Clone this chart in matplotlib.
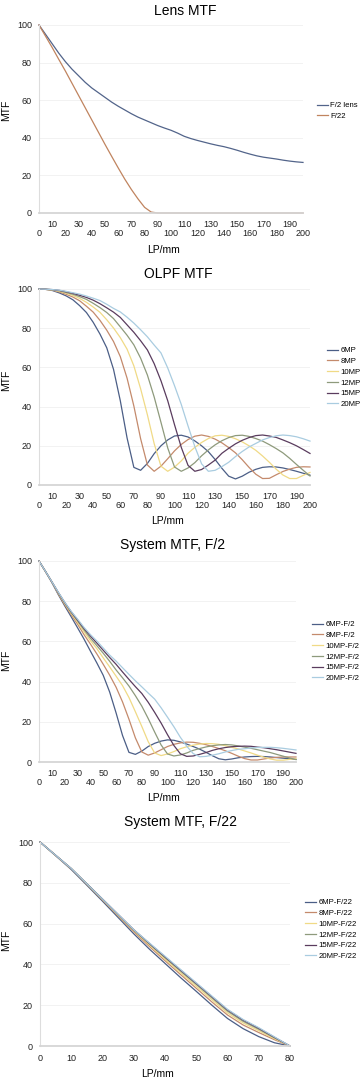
import matplotlib
matplotlib.use('Agg')
import matplotlib.pyplot as plt

plt.rcParams['font.family'] = ['Liberation Sans', 'DejaVu Sans']

# spatial frequency (LP/mm)
lp = list(range(0, 205, 5))
lp80 = list(range(0, 85, 5))

# Lens MTF
lens_f2 = [100, 95, 90, 85, 80.5, 76.5, 73, 69.5, 66.5, 64, 61.5, 59, 56.8, 54.8, 52.8, 51, 49.5, 48,
           46.5, 45.2, 44, 42.5, 40.8, 39.6, 38.6, 37.7, 36.8, 36, 35.3, 34.4, 33.4, 32.3, 31.3, 30.4,
           29.7, 29.2, 28.7, 28.1, 27.6, 27.2, 26.9]
lens_f22 = [100, 94, 88, 81.7, 75.5, 69, 62.5, 56, 49.5, 43, 36.5, 30.2, 24, 18, 12.5, 7.5, 3, 0.5,
            0, 0, 0, 0, 0, 0, 0, 0, 0, 0, 0, 0, 0, 0, 0, 0, 0, 0, 0, 0, 0, 0, 0]

# OLPF MTF
olpf_6 = [100, 99.8, 99.2, 98, 96.5, 94.5, 91.5, 88, 83, 77, 70, 59, 43, 24, 9, 7.5, 11, 16, 20, 23,
          25, 25.4, 24.5, 22.5, 20, 17, 13, 8.5, 4.5, 3.1, 4.5, 6.5, 8, 9, 9.3, 9.2, 8.7, 7.9, 7, 6, 5]
olpf_8 = [100, 99.8, 99.4, 98.5, 97.3, 95.9, 94, 91.2, 88.2, 84, 79, 73.2, 65.5, 54.5, 40.3, 23.6,
          10.2, 7, 9.6, 13.4, 17.4, 20.7, 23.2, 24.9, 25.5, 24.8, 23.4, 21.5, 19.1, 16.4, 12.9, 9,
          5.5, 3.3, 3.4, 5.2, 6.9, 8.1, 9, 9.3, 9.2]
olpf_10 = [100, 99.8, 99.5, 98.8, 97.9, 96.7, 95.2, 93.2, 90.8, 88.1, 84.3, 80.1, 75.2, 69.3, 60.8,
           49.1, 35.8, 21.1, 9.6, 7, 9.1, 12.3, 16.2, 19.2, 21.7, 23.7, 25.1, 25.4, 24.8, 23.6, 22,
           20, 17.7, 14.8, 11.6, 8.1, 5.1, 3.3, 3.3, 4.9, 6.4]
olpf_12 = [100, 99.9, 99.6, 99.1, 98.2, 97.3, 96.1, 94.7, 92.7, 90.5, 88, 84.9, 80.7, 76.4, 71.5,
           64.7, 56.1, 44.9, 32, 18.9, 9.2, 7, 8.7, 11.4, 14.9, 17.9, 20.5, 22.6, 24.2, 25.2, 25.4,
           24.8, 23.7, 22.4, 20.6, 18.6, 16.4, 13.6, 10.5, 7.5, 4.6]
olpf_15 = [100, 99.9, 99.7, 99.3, 98.6, 97.8, 96.8, 95.7, 94.3, 92.5, 90.4, 88.2, 85.5, 81.7, 77.9,
           73.6, 68.9, 61.9, 53.2, 43, 30.8, 19.2, 10, 7, 7.9, 10.2, 12.7, 16.2, 18.7, 21, 22.8,
           24.2, 25.2, 25.5, 25, 24.3, 23, 21.6, 20, 18.1, 16.1]
olpf_20 = [100, 99.9, 99.7, 99.4, 98.8, 98.1, 97.4, 96.4, 95.3, 94.1, 92.2, 90.1, 88.3, 85.6, 82.6,
           79.2, 75.6, 71.4, 67.4, 59.7, 50.7, 41.1, 30.1, 19.6, 10.8, 7, 7.5, 9.4, 11.6, 14.5,
           17.1, 19.4, 21.2, 23, 24.2, 25.1, 25.5, 25.2, 24.6, 23.6, 22.4]

# System MTF, F/2
sys2_6 = [100, 94.8, 89.3, 83.3, 77.7, 72.3, 66.8, 61.2, 55.2, 49.3, 43.1, 34.8, 24.4, 13.2, 4.8,
          3.8, 5.4, 7.7, 9.3, 10.4, 11, 10.8, 10, 8.9, 7.7, 6.4, 4.8, 3.1, 1.6, 1.1, 1.5, 2.1, 2.5,
          2.7, 2.8, 2.7, 2.5, 2.2, 1.9, 1.6, 1.3]
sys2_8 = [100, 94.8, 89.5, 83.7, 78.3, 73.4, 68.6, 63.4, 58.7, 53.8, 48.6, 43.2, 37.2, 29.9, 21.3,
          12, 5, 3.4, 4.5, 6.1, 7.7, 8.8, 9.5, 9.9, 9.8, 9.3, 8.6, 7.7, 6.7, 5.6, 4.3, 2.9, 1.7, 1,
          1, 1.5, 2, 2.3, 2.5, 2.5, 2.5]
sys2_10 = [100, 94.8, 89.6, 84, 78.8, 74, 69.5, 64.8, 60.4, 56.4, 51.8, 47.3, 42.7, 38, 32.1, 25,
           17.7, 10.1, 4.5, 3.2, 4, 5.2, 6.6, 7.6, 8.4, 8.9, 9.2, 9.1, 8.8, 8.1, 7.3, 6.5, 5.5, 4.5,
           3.4, 2.4, 1.5, 0.9, 0.9, 1.3, 1.7]
sys2_12 = [100, 94.9, 89.6, 84.2, 79.1, 74.4, 70.2, 65.8, 61.6, 57.9, 54.1, 50.1, 45.8, 41.9, 37.8,
           33, 27.8, 21.6, 14.9, 8.5, 4, 3, 3.5, 4.5, 5.8, 6.7, 7.5, 8.1, 8.5, 8.7, 8.5, 8, 7.4,
           6.8, 6.1, 5.4, 4.7, 3.8, 2.9, 2, 1.2]
sys2_15 = [100, 94.9, 89.7, 84.4, 79.4, 74.8, 70.7, 66.5, 62.7, 59.2, 55.6, 52, 48.6, 44.8, 41.1,
           37.5, 34.1, 29.7, 24.7, 19.4, 13.6, 8.2, 4.1, 2.8, 3, 3.8, 4.7, 5.8, 6.6, 7.2, 7.6, 7.8,
           7.9, 7.8, 7.4, 7.1, 6.6, 6.1, 5.5, 4.9, 4.3]
sys2_20 = [100, 94.9, 89.7, 84.5, 79.5, 75, 71.1, 67, 63.4, 60.2, 56.7, 53.2, 50.2, 46.9, 43.6,
           40.4, 37.4, 34.3, 31.3, 27, 22.3, 17.5, 12.3, 7.8, 4.2, 2.6, 2.8, 3.4, 4.1, 5, 5.7, 6.3,
           6.6, 7, 7.2, 7.3, 7.3, 7.1, 6.8, 6.4, 6]

# System MTF, F/22
sys22_6 = [100, 93.3, 86.5, 78.8, 71, 63, 55, 47.5, 40.5, 33.5, 26.8, 20, 13.5, 8.5, 4.6, 1.6, 0]
sys22_8 = [100, 93.4, 86.8, 79.2, 71.6, 63.8, 56, 48.8, 41.8, 35, 28.3, 21.6, 15.2, 10.3, 6.6, 3.1, 0]
sys22_10 = [100, 93.4, 86.9, 79.3, 71.8, 64.1, 56.5, 49.5, 42.6, 35.9, 29.3, 22.7, 16.2, 11.3, 7.5, 3.6, 0]
sys22_12 = [100, 93.5, 87, 79.5, 72, 64.4, 56.8, 50, 43.3, 36.7, 30.2, 23.6, 17.1, 12.1, 8.2, 4, 0]
sys22_15 = [100, 93.5, 87, 79.5, 72, 64.5, 57, 50.3, 43.7, 37.2, 30.7, 24.2, 17.7, 12.7, 8.7, 4.3, 0]
sys22_20 = [100, 93.5, 87, 79.5, 72, 64.5, 57, 50.5, 44, 37.5, 31, 24.5, 18, 13, 9, 4.5, 0]

mp_names = ['6MP', '8MP', '10MP', '12MP', '15MP', '20MP']
colors = ['#4b5e86', '#c48a6c', '#f0da86', '#8e9a7c', '#5a3c5e', '#a9cce0']

W, H = 361, 1080
fig = plt.figure(figsize=(W / 100, H / 100), dpi=100)


def make_axes(x0, x1, y100, y0):
    return fig.add_axes([x0 / W, 1 - y0 / H, (x1 - x0) / W, (y0 - y100) / H])


def style(ax, xmax, stagger):
    ax.set_xlim(0, xmax)
    ax.set_ylim(0, 100)
    ax.set_yticks(range(0, 101, 20))
    ax.set_xticks(range(0, xmax + 1, 10))
    ax.tick_params(length=0, labelsize=6.5, colors='#222222')
    ax.tick_params(axis='y', pad=5)
    ax.yaxis.grid(True, color='#f0f0f0', lw=0.6)
    ax.set_axisbelow(True)
    for s in ['top', 'right']:
        ax.spines[s].set_visible(False)
    ax.spines['left'].set_color('#dddddd')
    ax.spines['bottom'].set_color('#d5d5d5')
    ax.spines['bottom'].set_linewidth(1.3)
    for i, t in enumerate(ax.xaxis.get_major_ticks()):
        if stagger:
            t.set_pad(11.5 if i % 2 == 0 else 5)
        else:
            t.set_pad(5.5)


def legend(ax, x, y):
    ax.legend(loc='upper left', bbox_to_anchor=(x / W, 1 - y / H), bbox_transform=fig.transFigure,
              frameon=False, fontsize=5.6, handlelength=1.4, handletextpad=0.3,
              labelspacing=0.42, borderpad=0, borderaxespad=0)


def labels(title, tx, ty, ly, lx, my):
    fig.text(tx / W, 1 - ty / H, title, ha='center', va='center', fontsize=10)
    fig.text(lx / W, 1 - ly / H, 'LP/mm', ha='center', va='center', fontsize=7.5)
    fig.text(6 / W, 1 - my / H, 'MTF', ha='center', va='center', rotation=90, fontsize=7.5)


# Lens MTF
ax1 = make_axes(39, 303, 25, 213)
ax1.plot(lp, lens_f2, color='#52648a', lw=0.9, label='F/2 lens', clip_on=False)
ax1.plot(lp, lens_f22, color='#c0845f', lw=0.9, label='F/22', clip_on=False)
style(ax1, 200, True)
legend(ax1, 317, 102)
labels('Lens MTF', 185, 11, 250, 163, 110)

# OLPF MTF
ax2 = make_axes(39, 310, 289, 485)
for name, vals, c in zip(mp_names, [olpf_6, olpf_8, olpf_10, olpf_12, olpf_15, olpf_20], colors):
    ax2.plot(lp, vals, color=c, lw=0.9, label=name, clip_on=False)
style(ax2, 200, True)
legend(ax2, 327, 347)
labels('OLPF MTF', 178, 274, 521, 168, 380)

# System MTF, F/2
ax3 = make_axes(39, 296, 561, 762)
for name, vals, c in zip(mp_names, [sys2_6, sys2_8, sys2_10, sys2_12, sys2_15, sys2_20], colors):
    ax3.plot(lp, vals, color=c, lw=0.9, label=name + '-F/2', clip_on=False)
style(ax3, 200, True)
legend(ax3, 312, 621)
labels('System MTF, F/2', 173, 545, 798, 163, 660)

# System MTF, F/22
ax4 = make_axes(40, 290, 842, 1046)
for name, vals, c in zip(mp_names, [sys22_6, sys22_8, sys22_10, sys22_12, sys22_15, sys22_20], colors):
    ax4.plot(lp80, vals, color=c, lw=0.9, label=name + '-F/22', clip_on=False)
style(ax4, 80, False)
legend(ax4, 305, 899)
labels('System MTF, F/22', 180, 822, 1074, 157, 940)

fig.savefig('out.png', dpi=100, facecolor='white')
